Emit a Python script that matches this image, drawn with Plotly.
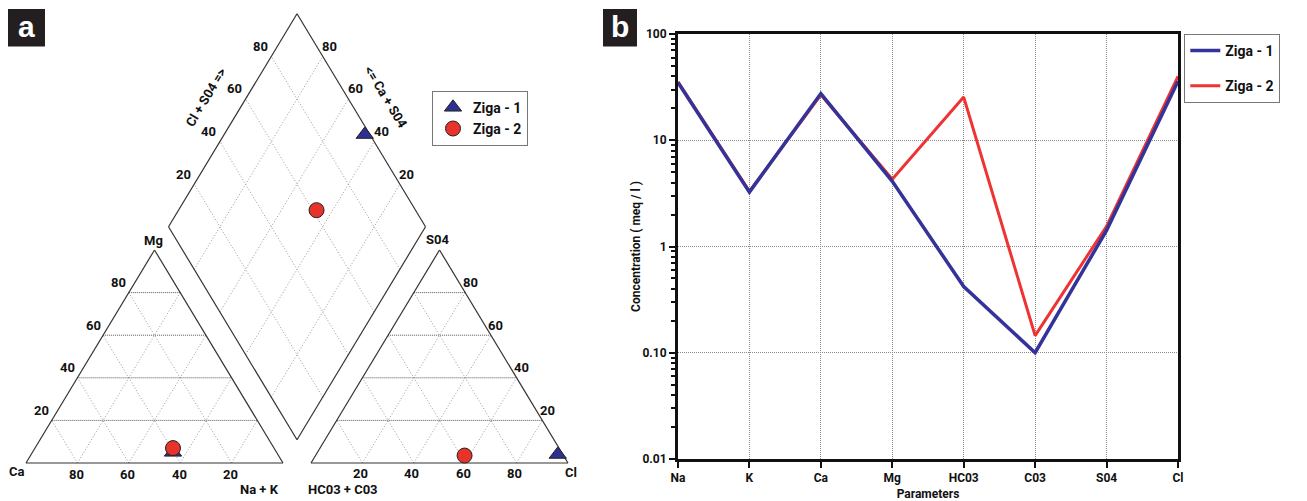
import math
import plotly.graph_objects as go

# ---------------- data ----------------
samples = ["Ziga - 1", "Ziga - 2"]
sample_colors = ["#2e3192", "#e8332a"]
sample_symbols = ["triangle-up", "circle"]

# Piper diagram, percentages of meq/l
cat_ca = [40.3, 39.3]
cat_mg = [5.0, 7.0]
cat_nak = [54.7, 53.7]
an_hco3_co3 = [2.0, 38.5]
an_so4 = [4.0, 3.5]
an_cl = [94.0, 58.0]

# Schoeller diagram, meq/l
params = ["Na", "K", "Ca", "Mg", "HC03", "C03", "S04", "Cl"]
ziga1 = [35.0, 3.25, 27.5, 4.1, 0.42, 0.10, 1.42, 36.0]
ziga2 = [35.5, 3.3, 26.8, 4.3, 25.5, 0.145, 1.55, 40.0]

grid_pcts = [20, 40, 60, 80]
conc_tickvals = [0.01, 0.1, 1, 10, 100]
conc_ticktext = ["0.01", "0.10", "1", "10", "100"]

# ---------------- styling / page geometry ----------------
FONT = "Roboto, Liberation Sans, Arial, sans-serif"
PAGE_W, PAGE_H = 1307, 501
OFF = 8                      # default body margin of the html page
WF, HF = PAGE_W - OFF, PAGE_H - OFF


def px_x(p):
    return (p - OFF) / WF


def px_y(p):
    return 1 - (p - OFF) / HF


# ---------------- Piper geometry ----------------
H = math.sqrt(3) / 2
GAP = 0.109


def cation_xy(ca, mg, nak):
    t = ca + mg + nak
    mg, nak = mg / t, nak / t
    return nak + mg / 2, mg * H


def anion_xy(hc, so4, cl):
    t = hc + so4 + cl
    so4, cl = so4 / t, cl / t
    return 1 + GAP + cl + so4 / 2, so4 * H


DB = (1 + GAP / 2, GAP * H)  # bottom vertex of diamond


def diamond_pt(s, r):
    return DB[0] - 0.5 * s + 0.5 * r, DB[1] + H * (s + r)


def diamond_xy(c, a):
    xc, yc = c
    xa, ya = a
    t = xa - xc - 0.5 * (yc - ya) / H
    return xc + 0.5 * t, yc + H * t


def seg_list(segs):
    xs, ys = [], []
    for (p0, p1) in segs:
        xs += [p0[0], p1[0], None]
        ys += [p0[1], p1[1], None]
    return xs, ys


fig = go.Figure()

outline = [
    (cation_xy(100, 0, 0), cation_xy(0, 0, 100)),
    (cation_xy(0, 0, 100), cation_xy(0, 100, 0)),
    (cation_xy(0, 100, 0), cation_xy(100, 0, 0)),
    (anion_xy(100, 0, 0), anion_xy(0, 0, 100)),
    (anion_xy(0, 0, 100), anion_xy(0, 100, 0)),
    (anion_xy(0, 100, 0), anion_xy(100, 0, 0)),
    (diamond_pt(0, 0), diamond_pt(1, 0)),
    (diamond_pt(1, 0), diamond_pt(1, 1)),
    (diamond_pt(1, 1), diamond_pt(0, 1)),
    (diamond_pt(0, 1), diamond_pt(0, 0)),
]

horiz, diag = [], []
for p in grid_pcts:
    q = 100 - p
    horiz.append((cation_xy(q, p, 0), cation_xy(0, p, q)))
    diag.append((cation_xy(q, 0, p), cation_xy(0, q, p)))
    diag.append((cation_xy(p, 0, q), cation_xy(p, q, 0)))
    horiz.append((anion_xy(q, p, 0), anion_xy(0, p, q)))
    diag.append((anion_xy(q, 0, p), anion_xy(0, q, p)))
    diag.append((anion_xy(p, 0, q), anion_xy(p, q, 0)))
    f = p / 100
    diag.append((diamond_pt(f, 0), diamond_pt(f, 1)))
    diag.append((diamond_pt(0, f), diamond_pt(1, f)))

gx, gy = seg_list(diag)
fig.add_trace(go.Scatter(x=gx, y=gy, mode="lines", xaxis="x", yaxis="y",
                         line=dict(color="#8c8c8c", width=0.9, dash="1px,2px"),
                         hoverinfo="skip", showlegend=False))
hx, hy = seg_list(horiz)
fig.add_trace(go.Scatter(x=hx, y=hy, mode="lines", xaxis="x", yaxis="y",
                         line=dict(color="#555555", width=1, dash="1px,1px"),
                         hoverinfo="skip", showlegend=False))
ox, oy = seg_list(outline)
fig.add_trace(go.Scatter(x=ox, y=oy, mode="lines", xaxis="x", yaxis="y",
                         line=dict(color="#333333", width=1.2),
                         hoverinfo="skip", showlegend=False))

for i, name in enumerate(samples):
    c = cation_xy(cat_ca[i], cat_mg[i], cat_nak[i])
    a = anion_xy(an_hco3_co3[i], an_so4[i], an_cl[i])
    d = diamond_xy(c, a)
    fig.add_trace(go.Scatter(
        x=[c[0], a[0], d[0]], y=[c[1], a[1], d[1]], mode="markers",
        xaxis="x", yaxis="y", name=name, legend="legend",
        marker=dict(symbol=sample_symbols[i], size=15, color=sample_colors[i],
                    line=dict(color="#222222", width=1)),
    ))

# Schoeller lines (red first so blue lies on top)
fig.add_trace(go.Scatter(x=params, y=ziga2, mode="lines", name=samples[1],
                         xaxis="x2", yaxis="y2", legend="legend2", legendrank=2,
                         legendgroup="g2",
                         line=dict(color="#ee3333", width=3)))
fig.add_trace(go.Scatter(x=params, y=ziga1, mode="lines", name=samples[0],
                         xaxis="x2", yaxis="y2", legend="legend2", legendrank=1,
                         legendgroup="g1",
                         line=dict(color="#333399", width=3.5)))

# ---------------- Piper annotations ----------------
ann = []


def add_label(pt, text, dx, dy, angle=0, size=13):
    ann.append(dict(x=pt[0], y=pt[1], xref="x", yref="y", text=text, showarrow=False,
                    xshift=dx, yshift=-dy, textangle=angle,
                    font=dict(family=FONT, size=size, color="#111111", weight="bold")))


for p in grid_pcts:
    q = 100 - p
    add_label(cation_xy(q, p, 0), str(p), -10, -10)            # Mg on left edge
    add_label(cation_xy(p, 0, q), str(p), -1, 11)              # Ca on base
    add_label(anion_xy(0, p, q), str(p), 5, -10)               # SO4 on right edge
    add_label(anion_xy(q, 0, p), str(p), -2, 10)               # Cl on base
    f = p / 100
    add_label(diamond_pt(1, f), str(p), -11, -10)              # Cl + SO4
    add_label(diamond_pt(f, 1), str(p), 7, -10)                # Ca + Mg side

add_label(cation_xy(0, 100, 0), "Mg", -1, -10)
add_label(cation_xy(100, 0, 0), "Ca", -9, 8)
add_label(cation_xy(0, 0, 100), "Na + K", -24, 26)
add_label(anion_xy(0, 100, 0), "S04", -2, -11)
add_label(anion_xy(0, 0, 100), "Cl", 3, 9)
add_label(anion_xy(100, 0, 0), "HC03 + C03", 32, 26)
add_label(diamond_pt(1, 0.5), "Cl + S04 =>", -27, -23, angle=-59)
add_label(diamond_pt(0.5, 1), "<= Ca + S04", 25, -23, angle=59)

# panel letters
for letter, x0, x1 in [("a", 7, 45), ("b", 603, 637)]:
    ann.append(dict(x=px_x((x0 + x1) / 2), y=px_y(27), xref="paper", yref="paper",
                    text=letter, showarrow=False, xanchor="center", yanchor="middle",
                    font=dict(family="Liberation Sans, Arial, sans-serif", size=30,
                              color="white", weight="bold")))

shapes = [
    dict(type="rect", xref="paper", yref="paper", x0=px_x(7), x1=px_x(45), layer="below",
         y0=px_y(46.5), y1=px_y(9), fillcolor="#231f20", line=dict(width=0)),
    dict(type="rect", xref="paper", yref="paper", x0=px_x(603), x1=px_x(637), layer="below",
         y0=px_y(46.5), y1=px_y(9), fillcolor="#231f20", line=dict(width=0)),
]

# ---------------- layout ----------------
px_per_u = 257.0
x_origin = 26.0
py_per_u = 213.0 / H
y_origin = 463.0
xa_range = [(OFF - x_origin) / px_per_u, (600 - x_origin) / px_per_u]
ya_range = [(y_origin - PAGE_H) / py_per_u, (y_origin - OFF) / py_per_u]

axis_font = dict(family=FONT, size=12, color="#111111", weight="bold")
grid_dash = "1px,1px"

fig.update_layout(
    width=WF, height=HF,
    margin=dict(l=0, r=0, t=0, b=0, pad=0, autoexpand=False),
    paper_bgcolor="white", plot_bgcolor="white",
    hovermode=False,
    annotations=ann,
    shapes=shapes,
    xaxis=dict(domain=[0, px_x(600)], range=xa_range, visible=False, fixedrange=True),
    yaxis=dict(domain=[0, 1], range=ya_range, visible=False, fixedrange=True),
    xaxis2=dict(
        domain=[px_x(678), px_x(1178)], anchor="y2", type="category",
        categoryorder="array", categoryarray=params, range=[0, 7],
        showgrid=True, gridcolor="#8a8a8a", griddash=grid_dash, gridwidth=1,
        showline=True, linecolor="#111111", linewidth=3, mirror=True,
        ticks="outside", ticklen=6, tickwidth=2, tickcolor="#111111",
        tickfont=axis_font, zeroline=False, automargin=False,
        title=dict(text="Parameters", font=dict(family=FONT, size=12, color="#111111",
                                                 weight="bold"), standoff=6),
    ),
    yaxis2=dict(
        domain=[px_y(459), px_y(34)], anchor="x2", type="log",
        range=[-2, 2], tickvals=conc_tickvals, ticktext=conc_ticktext,
        showgrid=True, gridcolor="#8a8a8a", griddash=grid_dash, gridwidth=1,
        showline=True, linecolor="#111111", linewidth=3, mirror=True,
        ticks="outside", ticklen=6, tickwidth=2, tickcolor="#111111",
        minor=dict(ticks="outside", ticklen=4, tickwidth=1.5, tickcolor="#111111",
                   dtick="D1", showgrid=False),
        tickfont=axis_font, zeroline=False, automargin=False,
        title=dict(text="Concentration ( meq / l )",
                   font=dict(family=FONT, size=12, color="#111111", weight="bold"),
                   standoff=0),
    ),
    legend=dict(x=px_x(432), y=px_y(90.7), xanchor="left", yanchor="top",
                bgcolor="white", bordercolor="#777777", borderwidth=1,
                font=dict(family=FONT, size=14, color="#111111", weight="bold")),
    legend2=dict(x=px_x(1184.3), y=px_y(34), xanchor="left", yanchor="top",
                 bgcolor="white", bordercolor="#777777", borderwidth=1,
                 font=dict(family=FONT, size=14, color="#111111", weight="bold"),
                 tracegroupgap=14),
)

fig.write_html("out.html")
